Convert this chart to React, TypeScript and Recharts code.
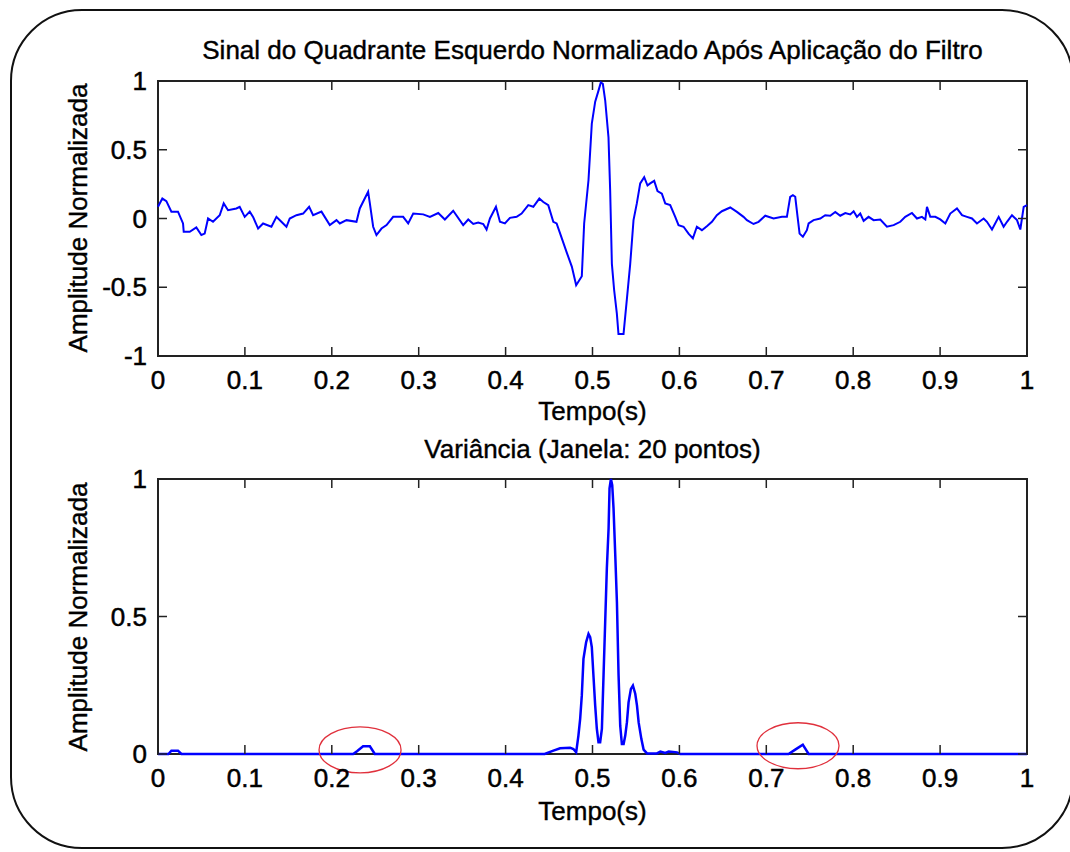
import React from "react";
import { LineChart, Line, XAxis, YAxis, ReferenceArea, ReferenceDot } from "recharts";

// filtered signal (left quadrant), normalized
const SIGNAL_T = [
  0, 0.005, 0.0096, 0.0154, 0.023, 0.0288, 0.0296, 0.0365, 0.0441, 0.0499, 0.0537, 0.0576, 0.0633, 0.071,
  0.0756, 0.0806, 0.0902, 0.094, 0.0998, 0.1056, 0.1094, 0.1152, 0.1209, 0.1305, 0.1363, 0.142, 0.1478,
  0.1516, 0.1593, 0.167, 0.1739, 0.1785, 0.1881, 0.1977, 0.2054, 0.2092, 0.2169, 0.2284, 0.2322, 0.2369,
  0.2418, 0.2438, 0.2476, 0.2514, 0.2572, 0.263, 0.2706, 0.2821, 0.2879, 0.2937, 0.3052, 0.3129, 0.3225,
  0.3301, 0.3397, 0.3512, 0.357, 0.3628, 0.3685, 0.3743, 0.3781, 0.382, 0.3889, 0.3935, 0.3992, 0.405,
  0.4127, 0.4184, 0.4261, 0.4319, 0.4388, 0.4434, 0.4491, 0.4549, 0.4587, 0.4628, 0.4705, 0.4762, 0.4812,
  0.4877, 0.4904, 0.4954, 0.4992, 0.5031, 0.5069, 0.5096, 0.5119, 0.5146, 0.5184, 0.5203, 0.5223, 0.5249,
  0.528, 0.5299, 0.5357, 0.5395, 0.5434, 0.5472, 0.551, 0.5549, 0.5595, 0.5633, 0.5664, 0.571, 0.5748,
  0.5798, 0.5837, 0.5894, 0.5952, 0.599, 0.6048, 0.6105, 0.6155, 0.6201, 0.6259, 0.6316, 0.6374, 0.6431,
  0.6489, 0.6585, 0.6662, 0.6738, 0.6777, 0.6853, 0.6911, 0.6988, 0.7084, 0.718, 0.7237, 0.7275, 0.7306,
  0.7333, 0.736, 0.7383, 0.7421, 0.7467, 0.7487, 0.7544, 0.7621, 0.7678, 0.7736, 0.7794, 0.7851, 0.7909,
  0.7966, 0.8005, 0.8043, 0.8081, 0.812, 0.8177, 0.8235, 0.8312, 0.8388, 0.8465, 0.8542, 0.8599, 0.8676,
  0.8734, 0.8791, 0.883, 0.8849, 0.8887, 0.8945, 0.9002, 0.906, 0.9117, 0.9194, 0.9252, 0.9309, 0.9367,
  0.9424, 0.9501, 0.9539, 0.9597, 0.9674, 0.9731, 0.977, 0.9827, 0.9885, 0.9923, 0.9962, 1,
];
const SIGNAL_AMP = [
  0.085, 0.145, 0.126, 0.05, 0.05, -0.036, -0.097, -0.097, -0.065, -0.12, -0.11, 0, -0.024, 0.024,
  0.11, 0.06, 0.073, 0.085, 0.012, 0.05, 0.012, -0.073, -0.036, -0.06, 0.012, -0.024, -0.06,
  0, 0.024, 0.036, 0.085, 0.024, 0.05, -0.048, -0.012, -0.036, -0.012, -0.024, 0.073, 0.133,
  0.194, 0.11, -0.06, -0.12, -0.073, -0.048, 0.012, 0.012, -0.036, 0.036, 0.03, 0.012, 0.04,
  -0.007, 0.056, -0.048, -0.007, -0.04, -0.03, -0.04, -0.08, 0, 0.085, -0.024, -0.036, 0.005,
  0.012, 0.036, 0.097, 0.085, 0.145, 0.12, 0.097, -0.024, -0.036, -0.11, -0.25, -0.35, -0.485,
  -0.42, -0.036, 0.28, 0.69, 0.85, 0.93, 0.99, 0.98, 0.86, 0.59, 0.21, -0.33, -0.52,
  -0.69, -0.84, -0.84, -0.59, -0.33, -0.012, 0.11, 0.255, 0.3, 0.24, 0.255, 0.274, 0.2,
  0.18, 0.11, 0.097, 0.012, -0.048, -0.06, -0.11, -0.145, -0.06, -0.085, -0.056, -0.024, 0.024,
  0.053, 0.08, 0.048, 0.012, -0.012, -0.04, -0.024, 0.02, 0, 0.012, 0.012, 0.158, 0.17,
  0.158, 0.012, -0.11, -0.133, -0.085, -0.036, -0.012, 0, 0.024, 0.02, 0.048, 0.02, 0.04,
  0.03, 0.053, 0.012, 0.036, -0.017, 0.012, -0.012, -0.007, -0.06, -0.048, -0.024, 0.012, 0.04,
  0, 0.012, -0.007, 0.085, 0.012, 0.012, -0.007, -0.036, 0.036, 0.073, 0.024, 0.012, 0,
  -0.036, 0, -0.024, -0.08, 0.012, -0.06, -0.024, 0.024, -0.012, -0.08, 0.085, 0.097,
];

// variance, window of 20 points
const VAR_T = [
  0, 0.012, 0.0154, 0.023, 0.027, 0.2246, 0.229, 0.236, 0.2438, 0.2495, 0.445, 0.455, 0.4627, 0.4742,
  0.478, 0.4812, 0.4838, 0.4858, 0.4877, 0.4896, 0.4927, 0.4954, 0.4973, 0.4992, 0.5012, 0.5031, 0.505,
  0.5069, 0.5088, 0.5108, 0.5127, 0.5146, 0.5165, 0.5185, 0.5196, 0.5212, 0.5227, 0.5242, 0.5262, 0.5281,
  0.53, 0.5319, 0.5338, 0.5358, 0.5377, 0.5396, 0.5415, 0.5442, 0.5465, 0.5492, 0.5512, 0.5531, 0.5562,
  0.5588, 0.5627, 0.5742, 0.5781, 0.5838, 0.5877, 0.5973, 0.601, 0.7256, 0.7333, 0.742, 0.7487, 1,
];
const VAR_AMP = [
  0, 0, 0.012, 0.012, 0, 0, 0.01, 0.028, 0.028, 0, 0, 0.012, 0.021, 0.023,
  0.018, 0.006, 0.067, 0.128, 0.213, 0.346, 0.407, 0.437, 0.425, 0.389, 0.279, 0.176, 0.091,
  0.043, 0.043, 0.091, 0.286, 0.48, 0.674, 0.82, 0.966, 1, 0.978, 0.893, 0.723, 0.553,
  0.286, 0.103, 0.036, 0.036, 0.067, 0.115, 0.188, 0.237, 0.249, 0.219, 0.176, 0.115, 0.055,
  0.016, 0.002, 0.002, 0.009, 0.004, 0.009, 0.006, 0, 0, 0.016, 0.034, 0, 0,
];

// red circles marking the small bumps
const MARK_T = [0.2325, 0.7365];
const MARK_V = [0.015, 0.03];

const X_TICKS = [0, 0.1, 0.2, 0.3, 0.4, 0.5, 0.6, 0.7, 0.8, 0.9, 1];
const Y_TICKS_TOP = [-1, -0.5, 0, 0.5, 1];
const Y_TICKS_BOTTOM = [0, 0.5, 1];

const signalData = SIGNAL_T.map((t, i) => ({ t, v: SIGNAL_AMP[i] }));
const varData = VAR_T.map((t, i) => ({ t, v: VAR_AMP[i] }));

const FONT = '"Liberation Sans", Arial, sans-serif';
const FS = 26;
const INK = "#222";
const PLOT_W = 869;
const PLOT_H = 275;

const renderXTick = (props: any) => {
  const { x, y, payload } = props;
  return (
    <g key={`xt-${payload.value}`}>
      <line x1={x} y1={y} x2={x} y2={y - 9} stroke={INK} strokeWidth={1.5} />
      <line x1={x} y1={y - PLOT_H} x2={x} y2={y - PLOT_H + 9} stroke={INK} strokeWidth={1.5} />
      <text x={x} y={y + 33} textAnchor="middle" fontSize={FS} fontFamily={FONT} fill="#000"
        stroke="#000" strokeWidth={0.5}>
        {String(payload.value)}
      </text>
    </g>
  );
};

const renderYTick = (props: any) => {
  const { x, y, payload } = props;
  return (
    <g key={`yt-${payload.value}`}>
      <line x1={x} y1={y} x2={x + 9} y2={y} stroke={INK} strokeWidth={1.5} />
      <line x1={x + PLOT_W} y1={y} x2={x + PLOT_W - 9} y2={y} stroke={INK} strokeWidth={1.5} />
      <text x={x - 11} y={y + 9} textAnchor="end" fontSize={FS} fontFamily={FONT} fill="#000"
        stroke="#000" strokeWidth={0.5}>
        {String(payload.value)}
      </text>
    </g>
  );
};

const Ellipse = (props: any) => (
  <ellipse cx={props.cx} cy={props.cy} rx={41} ry={23} fill="none" stroke="#e0303c" strokeWidth={1.3} />
);

const textStyle: React.CSSProperties = {
  position: "absolute",
  fontFamily: FONT,
  fontSize: FS,
  lineHeight: `${FS}px`,
  color: "#000",
  whiteSpace: "nowrap",
  WebkitTextStroke: "0.4px #000",
};

const Title = ({ top, children }: { top: number; children: React.ReactNode }) => (
  <div style={{ ...textStyle, left: 158, width: PLOT_W, top, textAlign: "center" }}>{children}</div>
);

const YLabel = ({ centerY }: { centerY: number }) => (
  <div
    style={{
      ...textStyle,
      left: 78 - 150,
      width: 300,
      top: centerY - FS / 2,
      textAlign: "center",
      transform: "rotate(-90deg)",
    }}
  >
    Amplitude Normalizada
  </div>
);

const App: React.FC = () => {
  return (
    <div style={{ position: "absolute", left: 0, top: 0, width: 1070, height: 852, overflow: "hidden", background: "#fff" }}>
      <div
        style={{
          position: "absolute",
          left: 10,
          top: 9,
          width: 1064,
          height: 840,
          border: "2px solid #111",
          borderRadius: 72,
          boxSizing: "border-box",
        }}
      />

      <div style={{ position: "absolute", left: 0, top: 0 }}>
        <LineChart width={1070} height={400} data={signalData} margin={{ top: 81, right: 43, bottom: 4, left: 98 }}>
          <XAxis dataKey="t" type="number" domain={[0, 1]} ticks={X_TICKS} interval={0} height={40}
            tickSize={0} tickMargin={0} axisLine={false} tickLine={false} tick={renderXTick} />
          <YAxis type="number" domain={[-1, 1]} ticks={Y_TICKS_TOP} interval={0} width={60}
            tickSize={0} tickMargin={0} axisLine={false} tickLine={false} tick={renderYTick} />
          <ReferenceArea x1={0} x2={1} y1={-1} y2={1} fill="none" stroke={INK} strokeWidth={2} />
          <Line dataKey="v" type="linear" stroke="#0000ff" strokeWidth={2} dot={false} isAnimationActive={false} />
        </LineChart>
      </div>

      <div style={{ position: "absolute", left: 0, top: 400 }}>
        <LineChart width={1070} height={452} data={varData} margin={{ top: 79, right: 43, bottom: 58, left: 98 }}>
          <XAxis dataKey="t" type="number" domain={[0, 1]} ticks={X_TICKS} interval={0} height={40}
            tickSize={0} tickMargin={0} axisLine={false} tickLine={false} tick={renderXTick} />
          <YAxis type="number" domain={[0, 1]} ticks={Y_TICKS_BOTTOM} interval={0} width={60}
            tickSize={0} tickMargin={0} axisLine={false} tickLine={false} tick={renderYTick} />
          <ReferenceArea x1={0} x2={1} y1={0} y2={1} fill="none" stroke={INK} strokeWidth={2} />
          <Line dataKey="v" type="linear" stroke="#0000ff" strokeWidth={2.5} dot={false} isAnimationActive={false} />
          {MARK_T.map((t, i) => (
            <ReferenceDot key={i} x={t} y={MARK_V[i]} shape={Ellipse} />
          ))}
        </LineChart>
      </div>

      <Title top={37}>Sinal do Quadrante Esquerdo Normalizado Após Aplicação do Filtro</Title>
      <Title top={398}>Tempo(s)</Title>
      <Title top={436}>Variância (Janela: 20 pontos)</Title>
      <Title top={798}>Tempo(s)</Title>
      <YLabel centerY={218} />
      <YLabel centerY={617} />
    </div>
  );
};

export default App;
